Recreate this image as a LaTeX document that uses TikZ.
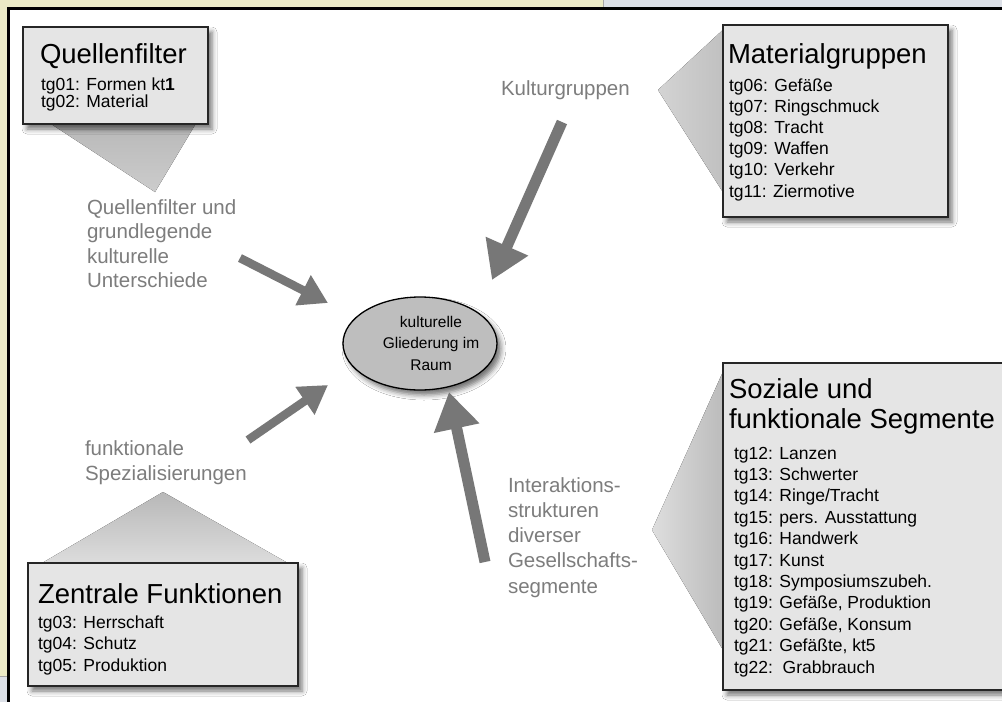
\documentclass[tikz,border=0pt]{standalone}
\usepackage{fontspec}
\setmainfont{Liberation Sans}
\usetikzlibrary{arrows.meta,shapes.geometric,shadows.blur}

\definecolor{paneyellow}{HTML}{EBEAC6}
\definecolor{paneblue}{HTML}{DCE0E7}
\definecolor{boxfill}{HTML}{E5E5E5}
\definecolor{ovalfill}{HTML}{BEBEBE}
\definecolor{labelgray}{HTML}{7D7D7D}
\definecolor{arrowgray}{HTML}{777777}

\begin{document}
\begin{tikzpicture}[x=1pt,y=-1pt,
  every node/.style={inner sep=0pt,outer sep=0pt},
  softshadow/.style={blur shadow={shadow xshift=4pt,shadow yshift=-5pt,
      shadow blur radius=5pt,shadow opacity=55}},
  infobox/.style={rectangle,draw=black!85,line width=1.3pt,fill=boxfill,
      anchor=north west,softshadow},
  oval/.style={ellipse,draw=black,line width=1.3pt,fill=ovalfill,
      minimum width=154pt,minimum height=93pt,softshadow},
  boxtitle/.style={anchor=base west,font=\fontsize{27.5}{30}\selectfont},
  boxitem/.style={anchor=base west,font=\fontsize{17.5}{20}\selectfont},
  ovaltext/.style={anchor=base,font=\fontsize{15.5}{18}\selectfont},
  sidelabel/.style={anchor=base west,text=labelgray,font=\fontsize{20.5}{24}\selectfont},
  wedge/.style={draw=none},
  bigflow/.style={draw=arrowgray,line width=11pt,-{Triangle[length=37pt,width=44pt]}},
  smallflow/.style={draw=arrowgray,line width=8.5pt,-{Triangle[length=28pt,width=32pt]}},
 ]
\useasboundingbox (0,0) rectangle (1002,702);

% window frame
\fill[paneblue] (0,0) rectangle (1002,702);
\fill[paneyellow] (0,0) rectangle (603,10);
\fill[paneyellow] (0,0) rectangle (10,676);
\draw[black!35,line width=1pt] (603.5,0) -- (603.5,7);
\draw[black!35,line width=1pt] (0,676.5) -- (7,676.5);
\fill[black] (7,7) rectangle (1002,10);
\fill[black] (7,7) rectangle (10,702);
\fill[white] (10,10) rectangle (1002,702);

% callout wedges behind the boxes
\fill[wedge,top color=black!28,bottom color=black!20]
  (45,120) -- (198,120) -- (155,192) -- cycle;
\fill[wedge,left color=black!17,right color=black!25]
  (658,90) -- (726,27) -- (726,197) -- cycle;
\fill[wedge,top color=black!28,bottom color=black!13]
  (163,492) -- (37,566) -- (293,566) -- cycle;
\fill[wedge,left color=black!13,right color=black!27]
  (652,530) -- (726,365) -- (726,655) -- cycle;

% Quellenfilter
\node[infobox,minimum width=185pt,minimum height=97pt] (qf) at (23,27) {};
\node[boxtitle] (qf-title) at (40,63) {Quellenfilter};
\node[boxitem] (qf-1) at (41,90) {tg01: Formen kt\textbf{1}};
\node[boxitem] (qf-2) at (41,107) {tg02: Material};

% Materialgruppen
\node[infobox,minimum width=225pt,minimum height=192pt] (mg) at (723,25) {};
\node[boxtitle] (mg-title) at (728,63) {Materialgruppen};
\foreach \t [count=\i] in {tg06: Gefäße,tg07: Ringschmuck,tg08: Tracht,
    tg09: Waffen,tg10: Verkehr,tg11: Ziermotive}
  \node[boxitem] (mg-\i) at (729,{91+21.2*(\i-1)}) {\t};

% Zentrale Funktionen
\node[infobox,minimum width=270pt,minimum height=123pt] (zf) at (28,563) {};
\node[boxtitle] (zf-title) at (38,603) {Zentrale Funktionen};
\foreach \t [count=\i] in {tg03: Herrschaft,tg04: Schutz,tg05: Produktion}
  \node[boxitem] (zf-\i) at (38,{628+21.5*(\i-1)}) {\t};

% Soziale und funktionale Segmente
\node[infobox,minimum width=290pt,minimum height=327pt] (sf) at (723,363) {};
\node[boxtitle] (sf-title1) at (729,398) {Soziale und};
\node[boxtitle] (sf-title2) at (729,428) {funktionale Segmente};
\foreach \t [count=\i] in {tg12: Lanzen,tg13: Schwerter,tg14: Ringe/Tracht,
    tg15: pers. Ausstattung,tg16: Handwerk,tg17: Kunst,tg18: Symposiumszubeh.,
    {tg19: Gefäße, Produktion},{tg20: Gefäße, Konsum},{tg21: Gefäßte, kt5},
    tg22:\ \ Grabbrauch}
  \node[boxitem] (sf-\i) at (734,{459+21.4*(\i-1)}) {\t};

% central oval
\node[oval] (hub) at (420,343.5) {};
\node[ovaltext] (hub-1) at (431,327) {kulturelle};
\node[ovaltext] (hub-2) at (431,348) {Gliederung im};
\node[ovaltext] (hub-3) at (431,370) {Raum};

% grey side labels
\node[sidelabel] (kg) at (501,95) {Kulturgruppen};
\foreach \t [count=\i] in {Quellenfilter und,grundlegende,kulturelle,Unterschiede}
  \node[sidelabel] (ql-\i) at (87,{214+24.5*(\i-1)}) {\t};
\foreach \t [count=\i] in {funktionale,Spezialisierungen}
  \node[sidelabel] (fs-\i) at (85,{455+25*(\i-1)}) {\t};
\foreach \t [count=\i] in {Interaktions-,strukturen,diverser,Gesellschafts-,segmente}
  \node[sidelabel] (ia-\i) at (508,{492+25.3*(\i-1)}) {\t};

% arrows towards the oval
\coordinate (kg-tail) at (562,122);
\coordinate (kg-tip) at (492,280);
\coordinate (ql-tail) at (240,258);
\coordinate (ql-tip) at (328,303);
\coordinate (fs-tail) at (248,440);
\coordinate (fs-tip) at (328,385);
\coordinate (ia-tail) at (485,562);
\coordinate (ia-tip) at (449,392);
\draw[bigflow] (kg-tail) -- (kg-tip);
\draw[smallflow] (ql-tail) -- (ql-tip);
\draw[smallflow] (fs-tail) -- (fs-tip);
\draw[bigflow] (ia-tail) -- (ia-tip);
\end{tikzpicture}
\end{document}
